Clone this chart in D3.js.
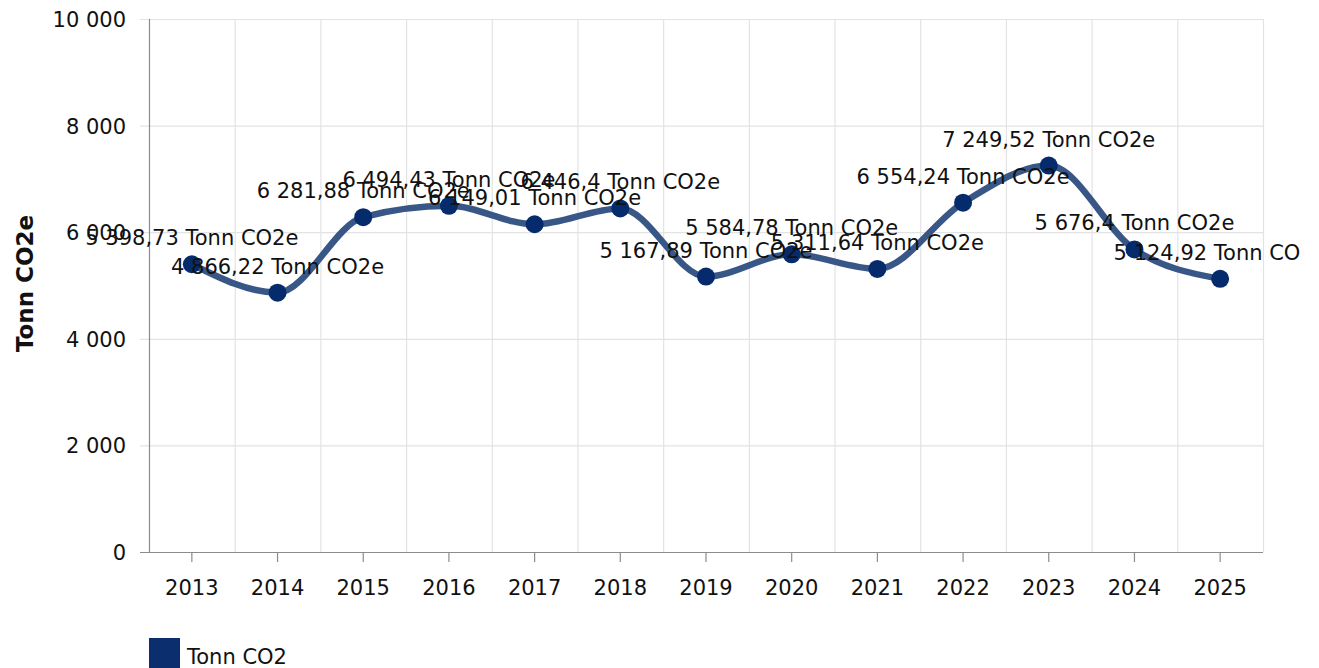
<!DOCTYPE html>
<html>
<head>
<meta charset="utf-8">
<script src="https://cdn.jsdelivr.net/npm/d3@7"></script>
<style>
  body { margin: 0; background: #fff; }
  svg { font-family: "DejaVu Sans", Verdana, sans-serif; }
</style>
</head>
<body>
<div id="graph"></div>
<script>
const years = ['2013', '2014', '2015', '2016', '2017', '2018', '2019', '2020', '2021', '2022', '2023', '2024', '2025'];
const values = [5398.73, 4866.22, 6281.88, 6494.43, 6149.01, 6446.4, 5167.89, 5584.78, 5311.64, 6554.24, 7249.52, 5676.4, 5124.92];
const yTicks = [0, 2000, 4000, 6000, 8000, 10000];
const unit = 'Tonn CO2e';
const legendLabel = 'Tonn CO2';

const svgWidth = 1300, svgHeight = 668;
const margin = { left: 149, top: 19 };
const plotRight = 1263, plotBottom = 552;

const svg = d3.select('#graph')
  .append('svg')
  .attr('width', svgWidth)
  .attr('height', svgHeight);

// space as thousands separator, comma decimals
const nb = d3.formatLocale({ decimal: ',', thousands: '\u00a0', grouping: [3], currency: ['', ''] });
const fmtTick = nb.format(',d');
const fmtVal = v => nb.format(',')(v);

const xScale = d3.scaleBand()
  .domain(years)
  .range([margin.left, plotRight])
  .padding(0);

const yScale = d3.scaleLinear()
  .domain([0, 10000])
  .range([plotBottom, margin.top]);

const cx = d => xScale(d) + xScale.bandwidth() / 2;

// horizontal grid
svg.append('g')
  .selectAll('line')
  .data(yTicks)
  .enter().append('line')
  .attr('x1', margin.left - 9)
  .attr('x2', plotRight)
  .attr('y1', d => yScale(d) + 0.5)
  .attr('y2', d => yScale(d) + 0.5)
  .attr('stroke', d => d === 0 ? '#8c8c8c' : '#e3e3e3')
  .attr('stroke-width', 1.2);

// vertical grid at band edges
svg.append('g')
  .selectAll('line')
  .data(years)
  .enter().append('line')
  .attr('x1', d => xScale(d) + xScale.step() + 0.5)
  .attr('x2', d => xScale(d) + xScale.step() + 0.5)
  .attr('y1', margin.top)
  .attr('y2', plotBottom)
  .attr('stroke', '#e3e3e3')
  .attr('stroke-width', 1.2);

// y axis line
svg.append('line')
  .attr('x1', margin.left + 0.5).attr('x2', margin.left + 0.5)
  .attr('y1', margin.top).attr('y2', plotBottom)
  .attr('stroke', '#8c8c8c').attr('stroke-width', 1.2);

// y tick labels
svg.append('g')
  .selectAll('text')
  .data(yTicks)
  .enter().append('text')
  .attr('x', 126)
  .attr('y', d => yScale(d) + 8)
  .attr('text-anchor', 'end')
  .attr('font-size', 21)
  .attr('fill', '#111')
  .text(d => fmtTick(d));

// x ticks
svg.append('g')
  .selectAll('line')
  .data(years)
  .enter().append('line')
  .attr('x1', cx)
  .attr('x2', cx)
  .attr('y1', plotBottom)
  .attr('y2', plotBottom + 10)
  .attr('stroke', '#8c8c8c')
  .attr('stroke-width', 1.2);

svg.append('g')
  .selectAll('text')
  .data(years)
  .enter().append('text')
  .attr('x', cx)
  .attr('y', plotBottom + 43)
  .attr('text-anchor', 'middle')
  .attr('font-size', 21)
  .attr('fill', '#111')
  .text(d => d);

// y axis title
svg.append('text')
  .attr('transform', `translate(33,${(margin.top + plotBottom) / 2 - 2}) rotate(-90)`)
  .attr('text-anchor', 'middle')
  .attr('font-size', 23)
  .attr('font-weight', 'bold')
  .attr('fill', '#111')
  .text(unit);

// line
const line = d3.line()
  .x((d, i) => cx(years[i]))
  .y(d => yScale(d))
  .curve(d3.curveMonotoneX);

svg.append('path')
  .datum(values)
  .attr('d', line)
  .attr('fill', 'none')
  .attr('stroke', '#385787')
  .attr('stroke-width', 6.5)
  .attr('stroke-linecap', 'round');

// points
svg.append('g')
  .selectAll('circle')
  .data(values)
  .enter().append('circle')
  .attr('cx', (d, i) => cx(years[i]))
  .attr('cy', d => yScale(d))
  .attr('r', 9)
  .attr('fill', '#062b6c');

// data labels
svg.append('g')
  .selectAll('text')
  .data(values)
  .enter().append('text')
  .attr('x', (d, i) => cx(years[i]))
  .attr('y', d => yScale(d) - 19)
  .attr('text-anchor', 'middle')
  .attr('font-size', 21)
  .attr('fill', '#111')
  .text(d => `${fmtVal(d)} ${unit}`);

// legend
svg.append('rect')
  .attr('x', 149).attr('y', 638)
  .attr('width', 31).attr('height', 31)
  .attr('fill', '#0b2f6e');

svg.append('text')
  .attr('x', 187).attr('y', 664)
  .attr('font-size', 21)
  .attr('fill', '#111')
  .text(legendLabel);
</script>
</body>
</html>
